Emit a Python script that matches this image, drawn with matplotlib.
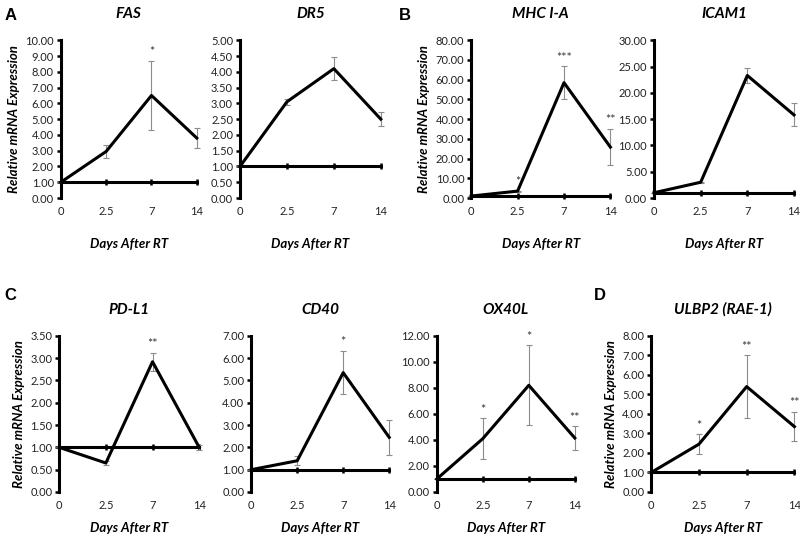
import numpy as np
import matplotlib
matplotlib.use("Agg")
import matplotlib.pyplot as plt
import matplotlib.transforms as mtransforms

plt.rcParams["font.family"] = ["Lato", "DejaVu Sans"]

days = ["0", "2.5", "7", "14"]

fas = [1.0, 2.95, 6.5, 3.8]
fas_err = [0, 0.4, 2.2, 0.65]
fas_sig = ["", "", "*", ""]

dr5 = [1.0, 3.05, 4.1, 2.5]
dr5_err = [0, 0.1, 0.37, 0.23]
dr5_sig = ["", "", "", ""]

mhc = [1.0, 3.5, 58.5, 25.8]
mhc_err = [0, 0.3, 8.3, 9.3]
mhc_sig = ["", "*", "***", "**"]

icam1 = [1.0, 3.0, 23.3, 15.8]
icam1_err = [0, 0.1, 1.4, 2.2]
icam1_sig = ["", "", "", ""]

pdl1 = [1.0, 0.65, 2.92, 1.0]
pdl1_err = [0, 0.05, 0.2, 0.05]
pdl1_sig = ["", "", "**", ""]

cd40 = [1.0, 1.4, 5.35, 2.45]
cd40_err = [0, 0.2, 0.97, 0.8]
cd40_sig = ["", "", "*", ""]

ox40l = [1.0, 4.1, 8.2, 4.15]
ox40l_err = [0, 1.55, 3.07, 0.9]
ox40l_sig = ["", "*", "*", "**"]

ulbp2 = [1.0, 2.45, 5.4, 3.35]
ulbp2_err = [0, 0.5, 1.6, 0.75]
ulbp2_sig = ["", "*", "**", "**"]

# title, values, errors, stars, ymax, ystep, show ylabel, axes rect, xlabel y
panels = [
    ("FAS", fas, fas_err, fas_sig, 10, 1, True, [0.076, 0.636, 0.170, 0.290], 0.552),
    ("DR5", dr5, dr5_err, dr5_sig, 5, 0.5, False, [0.300, 0.636, 0.176, 0.290], 0.552),
    ("MHC I-A", mhc, mhc_err, mhc_sig, 80, 10, True, [0.589, 0.636, 0.174, 0.290], 0.552),
    ("ICAM1", icam1, icam1_err, icam1_sig, 30, 5, False, [0.8175, 0.636, 0.175, 0.290], 0.552),
    ("PD-L1", pdl1, pdl1_err, pdl1_sig, 3.5, 0.5, True, [0.074, 0.0956, 0.175, 0.287], 0.03),
    ("CD40", cd40, cd40_err, cd40_sig, 7, 1, False, [0.314, 0.0956, 0.1725, 0.287], 0.03),
    ("OX40L", ox40l, ox40l_err, ox40l_sig, 12, 2, False, [0.546, 0.0956, 0.1725, 0.287], 0.03),
    ("ULBP2 (RAE-1)", ulbp2, ulbp2_err, ulbp2_sig, 8, 1, True, [0.814, 0.0956, 0.179, 0.287], 0.03),
]

fig = plt.figure(figsize=(8, 5.44), dpi=100)
x = np.arange(len(days))

for title, vals, errs, sig, ymax, ystep, ylab, rect, xly in panels:
    ax = fig.add_axes(rect)
    eb = ax.errorbar(x, vals, yerr=errs, fmt="none", ecolor="#8c8c8c", elinewidth=0.8,
                     capsize=2.5, capthick=0.8, zorder=2)
    for art in eb.lines[1] + eb.lines[2]:
        art.set_clip_on(False)
    ax.plot(x, vals, color="black", linewidth=2.2, zorder=3, clip_on=False)
    for i in range(len(x)):
        if sig[i]:
            ax.annotate(sig[i], (x[i], vals[i] + errs[i]), xytext=(0, 2),
                        textcoords="offset points", ha="center", va="bottom",
                        fontsize=9, color="#333333", annotation_clip=False)
    ax.set_xlim(0, len(days) - 1)
    ax.set_ylim(0, ymax)
    ax.set_yticks(np.arange(0, ymax + ystep / 2, ystep))
    ax.yaxis.set_major_formatter(matplotlib.ticker.FormatStrFormatter("%.2f"))
    ax.tick_params(axis="y", direction="out", length=3, width=1.8, labelsize=8, pad=2,
                   colors="black", labelcolor="#222222")
    ax.spines["top"].set_visible(False)
    ax.spines["right"].set_visible(False)
    ax.spines["left"].set_linewidth(2.2)
    ax.spines["bottom"].set_position(("data", 1))
    ax.spines["bottom"].set_linewidth(2.2)
    ax.set_xticks(x)
    ax.tick_params(axis="x", direction="inout", length=4, width=1.8, labelbottom=False)
    trans = mtransforms.blended_transform_factory(ax.transData, ax.transAxes)
    for i, lab in enumerate(days):
        ax.text(x[i], -0.05, lab, transform=trans, ha="center", va="top",
                fontsize=8, color="#222222")
    fig.text(rect[0] + rect[2] / 2, xly, "Days After RT", ha="center", va="center",
             fontsize=9.5, fontweight="bold", fontstyle="italic")
    ax.set_title(title, fontsize=11, fontweight="bold", fontstyle="italic", pad=16)
    if ylab:
        ax.set_ylabel("Relative mRNA Expression", fontsize=9.5, fontweight="bold",
                      fontstyle="italic", labelpad=4)

for letter, lx, ly in [("A", 0.006, 0.985), ("B", 0.498, 0.985),
                       ("C", 0.006, 0.47), ("D", 0.742, 0.47)]:
    fig.text(lx, ly, letter, fontsize=12, fontweight="bold", ha="left", va="top",
             family=["Liberation Sans", "DejaVu Sans"])

fig.savefig("out.png", dpi=100)
